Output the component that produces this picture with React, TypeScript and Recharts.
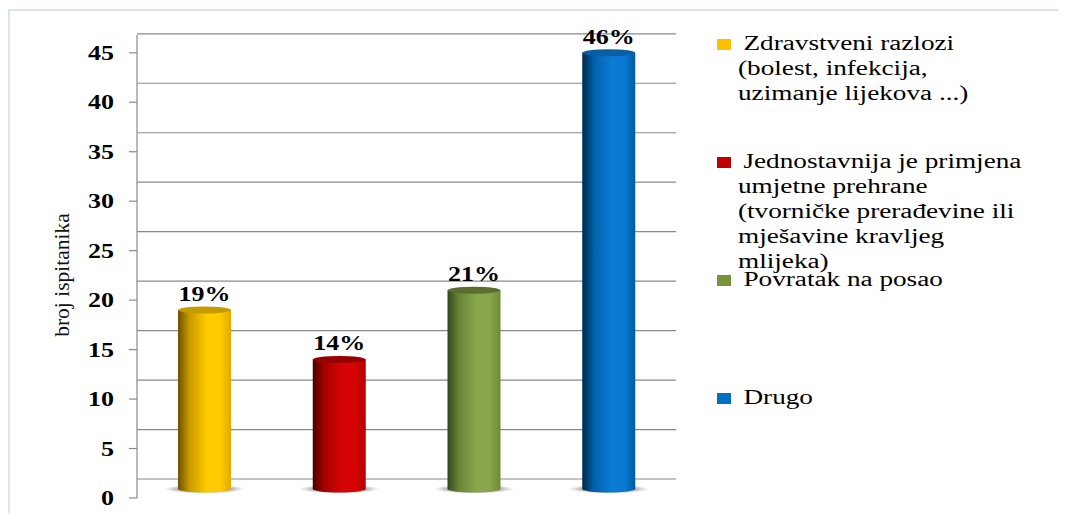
import React from 'react';
import { BarChart, Bar, XAxis, YAxis, CartesianGrid, Legend, LabelList } from 'recharts';

const categories = [
  'Zdravstveni razlozi\n(bolest, infekcija,\nuzimanje lijekova ...)',
  'Jednostavnija je primjena\numjetne prehrane\n(tvorničke prerađevine ili\nmješavine kravljeg\nmlijeka)',
  'Povratak na posao',
  'Drugo',
];
const counts = [19, 14, 21, 45];
const percentLabels = ['19%', '14%', '21%', '46%'];
const legendColors = ['#FFC000', '#C00000', '#77933C', '#0070C0'];
const yTicks = [0, 5, 10, 15, 20, 25, 30, 35, 40, 45];
const yAxisTitle = 'broj ispitanika';

const palettes = [
  { dark: '#6e5200', mid: '#c99a00', light: '#ffcc00', edge: '#e0aa00', top: '#c79a00' },
  { dark: '#4a0000', mid: '#a80000', light: '#d40404', edge: '#b00000', top: '#980000' },
  { dark: '#364620', mid: '#6b8637', light: '#88a64b', edge: '#6f8a38', top: '#5a6f2f' },
  { dark: '#00284a', mid: '#0062aa', light: '#0a7ad4', edge: '#005c9f', top: '#0b5ea6' },
];

const data = categories.map((name, i) => ({
  name,
  value: counts[i],
  label: percentLabels[i],
  idx: i,
}));

const SERIF = '"Liberation Serif", "Times New Roman", serif';

function Cylinder(props: any) {
  const { x, y, width, height, payload } = props;
  const i = payload?.idx ?? 0;
  const pal = palettes[i];
  const rx = width / 2;
  const ry = 3.5;
  const cx = x + rx;
  const bottom = y + height - 9;
  const gid = `cyl-grad-${i}`;
  const sid = `cyl-shadow-${i}`;
  return (
    <g>
      <defs>
        <linearGradient id={gid} x1="0" x2="1" y1="0" y2="0">
          <stop offset="0%" stopColor={pal.dark} />
          <stop offset="22%" stopColor={pal.mid} />
          <stop offset="55%" stopColor={pal.light} />
          <stop offset="80%" stopColor={pal.light} />
          <stop offset="100%" stopColor={pal.edge} />
        </linearGradient>
        <radialGradient id={sid} cx="0.5" cy="0.5" r="0.5">
          <stop offset="0%" stopColor="#666" stopOpacity={0.8} />
          <stop offset="70%" stopColor="#888" stopOpacity={0.55} />
          <stop offset="100%" stopColor="#aaa" stopOpacity={0} />
        </radialGradient>
      </defs>
      <ellipse cx={cx} cy={bottom} rx={rx + 14} ry={4.5} fill={`url(#${sid})`} />
      <path
        d={`M${x},${y} L${x},${bottom} A${rx},${ry} 0 0 0 ${x + width},${bottom} L${x + width},${y} Z`}
        fill={`url(#${gid})`}
      />
      <ellipse cx={cx} cy={y} rx={rx} ry={ry} fill={pal.top} />
    </g>
  );
}

function YTick(props: any) {
  const { x, y, payload } = props;
  return (
    <g transform={`translate(${x},${y})`}>
      <text
        transform="scale(1.3,1)"
        textAnchor="end"
        dy="0.36em"
        fontFamily={SERIF}
        fontWeight="bold"
        fontSize={20}
        fill="#000"
      >
        {payload.value}
      </text>
    </g>
  );
}

function TopLabel(props: any) {
  const vb = props.viewBox || props;
  const x = vb.x ?? props.x;
  const y = vb.y ?? props.y;
  const w = vb.width ?? props.width;
  return (
    <g transform={`translate(${x + w / 2},${y - 9})`}>
      <text
        transform="scale(1.3,1)"
        textAnchor="middle"
        fontFamily={SERIF}
        fontWeight="bold"
        fontSize={20}
        fill="#000"
      >
        {props.value}
      </text>
    </g>
  );
}

function YTitle(props: any) {
  const vb = props.viewBox || { x: 0, y: 0, width: 0, height: 0 };
  const cx = vb.x + 54;
  const cy = vb.y + vb.height / 2 + 8.5;
  return (
    <text
      x={cx}
      y={cy}
      transform={`rotate(-90 ${cx} ${cy})`}
      textAnchor="middle"
      dominantBaseline="central"
      fontFamily={SERIF}
      fontSize={21.5}
      fill="#111"
    >
      {yAxisTitle}
    </text>
  );
}

function GridLine(p: any) {
  if (p.index >= yTicks.length) return <g key={p.key ?? `g-${p.index}`} />;
  return (
    <line
      key={p.key ?? `g-${p.index}`}
      x1={p.x1}
      x2={p.x2}
      y1={p.y1 - 19}
      y2={p.y2 - 19}
      stroke="#8a8a8a"
      strokeWidth={1.2}
    />
  );
}

function LegendBlock() {
  return (
    <div style={{ position: 'absolute', left: 0, top: 0, width: 0, height: 0 }}>
      {categories.map((c, i) => (
        <div key={i} style={{ position: 'absolute', left: 0, top: 22.7 + i * 118, width: 345 }}>
          <div
            style={{
              position: 'absolute',
              left: 0,
              top: 8.5,
              width: 14,
              height: 11,
              background: legendColors[i],
            }}
          />
          <div
            style={{
              position: 'absolute',
              left: 21,
              top: 0,
              whiteSpace: 'pre',
              fontFamily: SERIF,
              fontSize: 20,
              lineHeight: '25px',
              color: '#000',
              textIndent: 4,
              transform: 'scaleX(1.36)',
              transformOrigin: 'left top',
            }}
          >
            {c}
          </div>
        </div>
      ))}
    </div>
  );
}

export default function App() {
  return (
    <div style={{ position: 'relative', width: 1058, height: 505 }}>
      <div
        style={{
          position: 'absolute',
          left: 0,
          top: 1,
          width: 1058,
          height: 510,
          borderTop: '2px solid #dbe4ee',
          borderLeft: '2px solid #dbe4ee',
          boxSizing: 'border-box',
        }}
      />
      <BarChart
        width={1058}
        height={505}
        data={data}
        margin={{ top: 27, right: 390, bottom: 15, left: 0 }}
        style={{ position: 'absolute', left: 0, top: 0 }}
      >
        <CartesianGrid
          vertical={false}
          syncWithTicks
          horizontal={(p: any) => <GridLine {...p} />}
        />
        <XAxis dataKey="name" hide />
        <YAxis
          width={129}
          domain={[0, 46.8]}
          ticks={yTicks}
          interval={0}
          allowDataOverflow
          tickSize={8}
          tickMargin={15}
          axisLine={{ stroke: '#8a8a8a', strokeWidth: 1.2 }}
          tickLine={{ stroke: '#8a8a8a', strokeWidth: 1.2 }}
          tick={<YTick />}
          label={(p: any) => <YTitle {...p} />}
        />
        <Legend
          layout="horizontal"
          verticalAlign="middle"
          align="right"
          wrapperStyle={{ position: 'absolute', left: 709, top: 0, width: 0, height: 0, overflow: 'visible' }}
          content={() => <LegendBlock />}
        />
        <Bar dataKey="value" barSize={53} isAnimationActive={false} shape={(p: any) => <Cylinder {...p} />}>
          <LabelList dataKey="label" content={(p: any) => <TopLabel {...p} />} />
        </Bar>
      </BarChart>
    </div>
  );
}
